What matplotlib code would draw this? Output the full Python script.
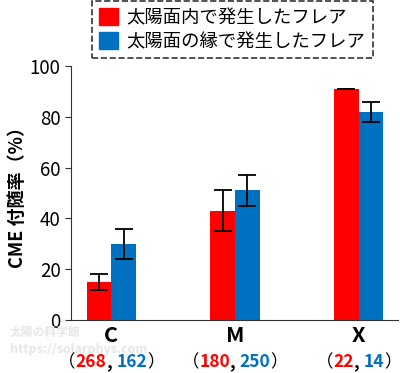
import matplotlib
matplotlib.use("Agg")
import matplotlib.pyplot as plt
import matplotlib.transforms as mtransforms
from matplotlib.patches import Patch
import numpy as np

plt.rcParams['font.family'] = ['Noto Sans CJK JP', 'DejaVu Sans']

# data
classes = ["C", "M", "X"]
disk_rate = [15, 43, 91]
disk_lo = [12, 35, 91]
disk_hi = [18, 51, 91]
limb_rate = [30, 51, 82]
limb_lo = [24, 45, 78]
limb_hi = [36, 57, 86]
disk_n = [268, 180, 22]
limb_n = [162, 250, 14]
legend_labels = ["太陽面内で発生したフレア", "太陽面の縁で発生したフレア"]

RED = "#ff0000"
BLUE = "#0070c0"

fig = plt.figure(figsize=(4.0, 3.73), dpi=100)
ax = fig.add_axes([0.1775, 0.142, 0.8175, 0.681])

# watermark (behind everything)
fig.text(0.025, 0.110, "太陽の科学館", fontsize=8.5, color='#e6e6e6', fontweight='bold',
         ha='left', va='center', zorder=0)
fig.text(0.025, 0.062, "https://solarphys.com", fontsize=9, color='#e6e6e6',
         fontweight='bold', ha='left', va='center', zorder=0)

x = np.arange(len(classes))
w = 0.2
ax.bar(x - w/2, disk_rate, w, color=RED)
ax.bar(x + w/2, limb_rate, w, color=BLUE)
ax.errorbar(x - w/2, disk_rate,
            yerr=[np.subtract(disk_rate, disk_lo), np.subtract(disk_hi, disk_rate)],
            fmt='none', ecolor='black', elinewidth=1.3, capsize=6.5, capthick=1.3)
ax.errorbar(x + w/2, limb_rate,
            yerr=[np.subtract(limb_rate, limb_lo), np.subtract(limb_hi, limb_rate)],
            fmt='none', ecolor='black', elinewidth=1.3, capsize=6.5, capthick=1.3)

ax.set_xlim(-0.326, 2.318)
ax.set_ylim(0, 100)
ax.set_yticks([0, 20, 40, 60, 80, 100])
ax.tick_params(axis='y', labelsize=13.5, length=4, color='#333333')
ax.set_xticks([])
for s in ['top', 'right']:
    ax.spines[s].set_visible(False)
for s in ['left', 'bottom']:
    ax.spines[s].set_color('#333333')
ax.set_ylabel("CME 付随率（%）", fontsize=13, fontweight='bold', labelpad=2)

# category labels and counts
trans = mtransforms.blended_transform_factory(ax.transData, ax.transAxes)
for i, c in enumerate(classes):
    ax.text(x[i], -0.02, c, transform=trans, ha='center', va='top',
            fontsize=15.5, fontweight='bold')

fig.canvas.draw()
renderer = fig.canvas.get_renderer()
for i in range(len(classes)):
    parts = [("（", 'black', 'normal'), (str(disk_n[i]), RED, 'bold'),
             (", ", 'black', 'bold'), (str(limb_n[i]), BLUE, 'bold'),
             ("）", 'black', 'normal')]
    texts = []
    for s, col, fw in parts:
        t = fig.text(0, 0, s, color=col, fontweight=fw, fontsize=12.5,
                     ha='left', va='baseline')
        texts.append(t)
    widths = [t.get_window_extent(renderer).width for t in texts]
    total = sum(widths)
    cx = ax.transData.transform((x[i], 0))[0]
    start = cx - total / 2
    ypix = 373 - 367
    for t, wd in zip(texts, widths):
        t.set_position((start / 400, ypix / 373))
        start += wd

handles = [Patch(color=RED), Patch(color=BLUE)]
leg = fig.legend(handles, legend_labels, loc='upper center',
                 bbox_to_anchor=(0.581, 0.997), fontsize=13.2, frameon=True,
                 fancybox=False, handlelength=1.0, handleheight=1.0,
                 handletextpad=0.5, labelspacing=0.3, borderpad=0.4,
                 borderaxespad=0)
frame = leg.get_frame()
frame.set_linestyle('--')
frame.set_edgecolor('black')
frame.set_linewidth(1.2)

fig.savefig("out.png", dpi=100)
